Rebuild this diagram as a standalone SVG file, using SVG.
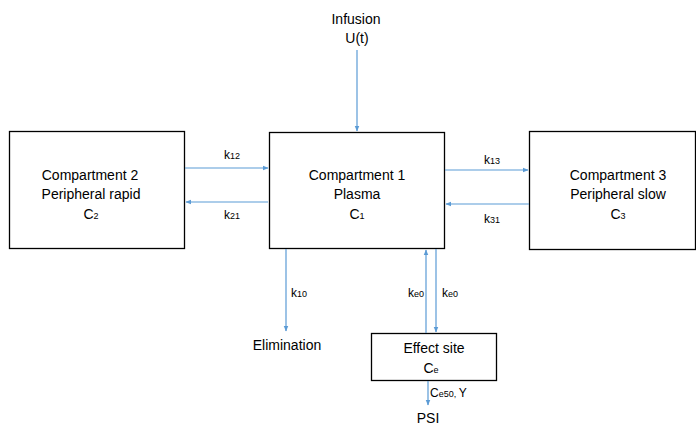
<svg xmlns="http://www.w3.org/2000/svg" width="696" height="425" viewBox="0 0 696 425">
<defs>
<marker id="ah" viewBox="0 0 10 10" refX="9" refY="5" markerWidth="6" markerHeight="6" orient="auto" markerUnits="userSpaceOnUse">
<path d="M0,1 L10,5 L0,9 Z" fill="#5B9BD5"/>
</marker>
<style>
.box{fill:#fff;stroke:#000;stroke-width:1.3}
.t{font-family:"Liberation Sans",Arial,sans-serif;font-size:14px;fill:#000;text-anchor:middle}
.k{font-family:"Liberation Sans",Arial,sans-serif;font-size:12px;fill:#000}
.s{font-size:9px}
.c{stroke:#5B9BD5;stroke-width:1.2;fill:none;marker-end:url(#ah)}
</style>
</defs>
<rect width="696" height="425" fill="#fff"/>
<g id="comp2">
<rect class="box" x="9.5" y="131.5" width="175" height="117"/>
<text class="t" x="90" y="180">Compartment 2</text>
<text class="t" x="91" y="199">Peripheral rapid</text>
<text class="t" x="91" y="219">C<tspan class="s">2</tspan></text>
</g>
<g id="comp1">
<rect class="box" x="269.5" y="132.5" width="175" height="116"/>
<text class="t" x="357" y="180">Compartment 1</text>
<text class="t" x="357" y="199">Plasma</text>
<text class="t" x="357" y="219">C<tspan class="s">1</tspan></text>
</g>
<g id="comp3">
<rect class="box" x="529.5" y="131.5" width="166" height="118"/>
<text class="t" x="618" y="180">Compartment 3</text>
<text class="t" x="618" y="199">Peripheral slow</text>
<text class="t" x="618" y="219">C<tspan class="s">3</tspan></text>
</g>
<g id="effect">
<rect class="box" x="371.5" y="333.5" width="125" height="47"/>
<text class="t" x="434" y="353">Effect site</text>
<text class="t" x="431" y="373">C<tspan class="s">e</tspan></text>
</g>
<g id="infusion">
<text class="t" x="356" y="24">Infusion</text>
<text class="t" x="357" y="43">U(t)</text>
</g>
<g id="elimination">
<text class="t" x="287" y="350">Elimination</text>
</g>
<g id="psi">
<text class="t" x="428" y="423">PSI</text>
</g>
<g id="connectors">
<line class="c" x1="357" y1="50" x2="357" y2="131"/>
<line class="c" x1="185" y1="168" x2="268" y2="168"/>
<line class="c" x1="268" y1="202" x2="186" y2="202"/>
<line class="c" x1="445" y1="170" x2="528" y2="170"/>
<line class="c" x1="529" y1="204" x2="446" y2="204"/>
<line class="c" x1="286" y1="249" x2="286" y2="331"/>
<line class="c" x1="426" y1="333" x2="426" y2="250"/>
<line class="c" x1="436" y1="249" x2="436" y2="332"/>
<line class="c" x1="428" y1="381" x2="428" y2="405"/>
<text class="k" x="224" y="159">k<tspan class="s">12</tspan></text>
<text class="k" x="224" y="219">k<tspan class="s">21</tspan></text>
<text class="k" x="484" y="164">k<tspan class="s">13</tspan></text>
<text class="k" x="484" y="223">k<tspan class="s">31</tspan></text>
<text class="k" x="291" y="297">k<tspan class="s">10</tspan></text>
<text class="k" x="408" y="297">k<tspan class="s">e0</tspan></text>
<text class="k" x="442" y="297">k<tspan class="s">e0</tspan></text>
<text class="k" x="430" y="397">C<tspan class="s">e50, </tspan>Y</text>
</g>
</svg>
